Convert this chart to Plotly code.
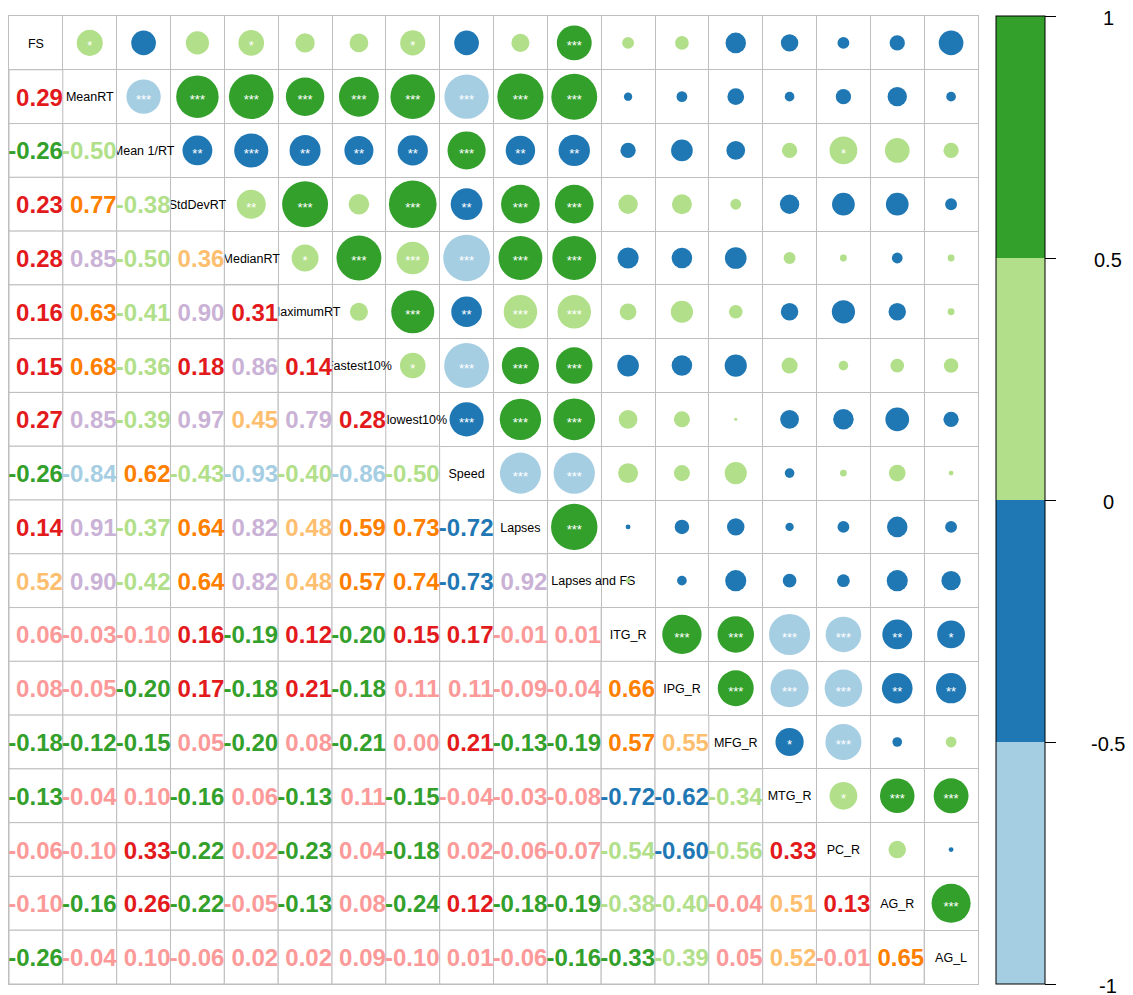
import math
import plotly.graph_objects as go

# ---------------- data ----------------
labels = ["FS", "MeanRT", "Mean 1/RT", "StdDevRT", "MedianRT", "MaximumRT",
          "Fastest10%", "Slowest10%", "Speed", "Lapses", "Lapses and FS",
          "ITG_R", "IPG_R", "MFG_R", "MTG_R", "PC_R", "AG_R", "AG_L"]

# lower-triangle correlations, row i holds columns 0..i-1
row_MeanRT = [0.29]
row_Mean1RT = [-0.26, -0.503]
row_StdDevRT = [0.23, 0.77, -0.38]
row_MedianRT = [0.28, 0.85, -0.497, 0.36]
row_MaximumRT = [0.16, 0.63, -0.41, 0.90, 0.31]
row_Fastest10 = [0.15, 0.68, -0.36, 0.18, 0.86, 0.14]
row_Slowest10 = [0.27, 0.85, -0.39, 0.97, 0.45, 0.79, 0.28]
row_Speed = [-0.26, -0.84, 0.62, -0.43, -0.93, -0.40, -0.86, -0.497]
row_Lapses = [0.14, 0.91, -0.37, 0.64, 0.82, 0.48, 0.59, 0.73, -0.72]
row_LapsesFS = [0.52, 0.90, -0.42, 0.64, 0.82, 0.48, 0.57, 0.74, -0.73, 0.92]
row_ITG_R = [0.06, -0.03, -0.10, 0.16, -0.19, 0.12, -0.20, 0.15, 0.17, -0.01, 0.01]
row_IPG_R = [0.08, -0.05, -0.20, 0.17, -0.18, 0.21, -0.18, 0.11, 0.11, -0.09, -0.04, 0.66]
row_MFG_R = [-0.18, -0.12, -0.15, 0.05, -0.20, 0.08, -0.21, 0.004, 0.21, -0.13, -0.19, 0.57, 0.55]
row_MTG_R = [-0.13, -0.04, 0.10, -0.16, 0.06, -0.13, 0.11, -0.15, -0.04, -0.03, -0.08, -0.72, -0.62, -0.34]
row_PC_R = [-0.06, -0.10, 0.33, -0.22, 0.02, -0.23, 0.04, -0.18, 0.02, -0.06, -0.07, -0.54, -0.60, -0.5553, 0.33]
row_AG_R = [-0.10, -0.16, 0.26, -0.22, -0.05, -0.13, 0.08, -0.24, 0.12, -0.18, -0.19, -0.38, -0.40, -0.04, 0.51, 0.13]
row_AG_L = [-0.26, -0.04, 0.10, -0.06, 0.02, 0.02, 0.09, -0.10, 0.01, -0.06, -0.16, -0.33, -0.39, 0.05, 0.52, -0.01, 0.65]

# significance stars, upper triangle, row i holds columns i+1..17
sig_FS = ["*", "", "", "*", "", "", "*", "", "", "***", "", "", "", "", "", "", ""]
sig_MeanRT = ["***"] * 9 + [""] * 7
sig_Mean1RT = ["**", "***", "**", "**", "**", "***", "**", "**", "", "", "", "", "*", "", ""]
sig_StdDevRT = ["**", "***", "", "***", "**", "***", "***"] + [""] * 7
sig_MedianRT = ["*", "***", "***", "***", "***", "***"] + [""] * 7
sig_MaximumRT = ["", "***", "**", "***", "***"] + [""] * 7
sig_Fastest10 = ["*", "***", "***", "***"] + [""] * 7
sig_Slowest10 = ["***", "***", "***"] + [""] * 7
sig_Speed = ["***", "***"] + [""] * 7
sig_Lapses = ["***"] + [""] * 7
sig_LapsesFS = [""] * 7
sig_ITG_R = ["***", "***", "***", "***", "**", "*"]
sig_IPG_R = ["***", "***", "***", "**", "**"]
sig_MFG_R = ["*", "***", "", ""]
sig_MTG_R = ["*", "***", "***"]
sig_PC_R = ["", ""]
sig_AG_R = ["***"]

cb_tickvals = [-1, -0.5, 0, 0.5, 1]
cb_ticktext = ["-1", "-0.5", "0", "0.5", "1"]

# ---------------- styling ----------------
circle_colors = ["#A6CEE3", "#1F78B4", "#B2DF8A", "#33A02C"]
number_colors = ["#A6CEE3", "#1F78B4", "#B2DF8A", "#33A02C", "#FB9A99",
                 "#E31A1C", "#FDBF6F", "#FF7F00", "#CAB2D6"]
grid_col = "#BEBEBE"
FONT = "Liberation Sans, Arial, Helvetica, sans-serif"

BODY = 8  # default page body margin
W, H = 1133 - BODY, 995 - BODY
ML, MR, MT, MB = 1, 155, 8, 11
plot_w = W - ML - MR
plot_h = H - MT - MB
n = len(labels)
cell_px = min(plot_w, plot_h) / n
px = 1.0 / cell_px  # one pixel in data units (vertical)


def paper_x(page_x):
    return (page_x - BODY - ML) / plot_w


lower_rows = [[], row_MeanRT, row_Mean1RT, row_StdDevRT, row_MedianRT, row_MaximumRT,
              row_Fastest10, row_Slowest10, row_Speed, row_Lapses, row_LapsesFS,
              row_ITG_R, row_IPG_R, row_MFG_R, row_MTG_R, row_PC_R, row_AG_R, row_AG_L]
sig_rows = [sig_FS, sig_MeanRT, sig_Mean1RT, sig_StdDevRT, sig_MedianRT, sig_MaximumRT,
            sig_Fastest10, sig_Slowest10, sig_Speed, sig_Lapses, sig_LapsesFS,
            sig_ITG_R, sig_IPG_R, sig_MFG_R, sig_MTG_R, sig_PC_R, sig_AG_R, []]

# symmetric matrix
M = [[1.0] * n for _ in range(n)]
for i in range(n):
    for j, v in enumerate(lower_rows[i]):
        M[i][j] = v
        M[j][i] = v


def num_color(v):
    k = int((v + 1) / (2 / 9))
    return number_colors[max(0, min(8, k))]


fig = go.Figure()

# diagonal labels (left overflow gets hidden by the lower cells drawn afterwards)
diag_text = ["\u00a0" * 11 + l if l == "Lapses and FS" else l for l in labels]
fig.add_trace(go.Scatter(
    x=list(range(n)), y=[i + 1.5 * px for i in range(n)], mode="text",
    text=diag_text, textposition="middle center",
    textfont=dict(family=FONT, size=12.5, color="black"),
    hoverinfo="skip", showlegend=False, cliponaxis=False))

# lower-triangle white cells
lx, ly = [], []
for i in range(n):
    for j in range(i):
        lx.append(j)
        ly.append(i)
fig.add_trace(go.Scatter(
    x=lx, y=ly, mode="markers",
    marker=dict(symbol="square", size=cell_px, color="white",
                line=dict(color=grid_col, width=1)),
    hoverinfo="skip", showlegend=False, cliponaxis=False))

# upper-triangle circles
cx, cy, cv, cs = [], [], [], []
for i in range(n):
    for j in range(i + 1, n):
        v = M[i][j]
        cx.append(j)
        cy.append(i)
        cv.append(v)
        cs.append(0.9 * math.sqrt(abs(v)) * cell_px)
cscale = [[0, circle_colors[0]], [0.25, circle_colors[0]],
          [0.25, circle_colors[1]], [0.5, circle_colors[1]],
          [0.5, circle_colors[2]], [0.75, circle_colors[2]],
          [0.75, circle_colors[3]], [1, circle_colors[3]]]
fig.add_trace(go.Scatter(
    x=cx, y=cy, mode="markers",
    marker=dict(size=cs, sizemode="diameter", color=cv, colorscale=cscale,
                cmin=-1, cmax=1, line=dict(width=0), opacity=1,
                showscale=True,
                colorbar=dict(x=paper_x(996), xanchor="left", xpad=0, ypad=0,
                              y=0.5, yanchor="middle", len=1, lenmode="fraction",
                              thickness=49, thicknessmode="pixels",
                              outlinewidth=1, outlinecolor="black", borderwidth=0,
                              ticks="outside", ticklen=11, tickwidth=1, tickcolor="black",
                              tickvals=cb_tickvals, showticklabels=False)),
    text=[f"{v:.2f}" for v in cv], hoverinfo="text", showlegend=False))

# significance stars
sx, sy, st = [], [], []
for i in range(n):
    for k, s in enumerate(sig_rows[i]):
        if s:
            sx.append(i + 1 + k)
            sy.append(i + 4.2 * px)
            st.append(s)
fig.add_trace(go.Scatter(
    x=sx, y=sy, mode="text", text=st, textposition="middle center",
    textfont=dict(family=FONT, size=13, color="white"),
    hoverinfo="skip", showlegend=False))

# lower-triangle numbers
nx, ny, nt, nc = [], [], [], []
for i in range(n):
    for j, v in enumerate(lower_rows[i]):
        nx.append(j + 0.5)
        ny.append(i + 3 * px)
        nt.append(f"{v:.2f}")
        nc.append(num_color(v))
fig.add_trace(go.Scatter(
    x=nx, y=ny, mode="text", text=nt, textposition="middle left",
    textfont=dict(family=FONT, size=24, color=nc, weight="bold"),
    hoverinfo="skip", showlegend=False, cliponaxis=False))

# colorbar labels
annotations = []
for v, t in zip(cb_tickvals, cb_ticktext):
    annotations.append(dict(
        x=paper_x(1108), y=(v + 1) / 2, xref="paper", yref="paper",
        text=t, showarrow=False, xanchor="center", yanchor="middle",
        yshift=-2,
        font=dict(family=FONT, size=20, color="black")))

bounds = [k - 0.5 for k in range(n + 1)]
axis_common = dict(tickvals=bounds, showticklabels=False, ticks="",
                   showgrid=True, gridcolor=grid_col, gridwidth=1,
                   zeroline=False, showline=True, linecolor=grid_col,
                   linewidth=1, mirror=True, fixedrange=True)
fig.update_layout(
    width=W, height=H,
    margin=dict(l=ML, r=MR, t=MT, b=MB, pad=0),
    paper_bgcolor="white", plot_bgcolor="white",
    xaxis=dict(range=[-0.5, n - 0.5], **axis_common),
    yaxis=dict(range=[n - 0.5, -0.5], **axis_common),
    annotations=annotations,
    font=dict(family=FONT),
)

fig.write_html("out.html")
